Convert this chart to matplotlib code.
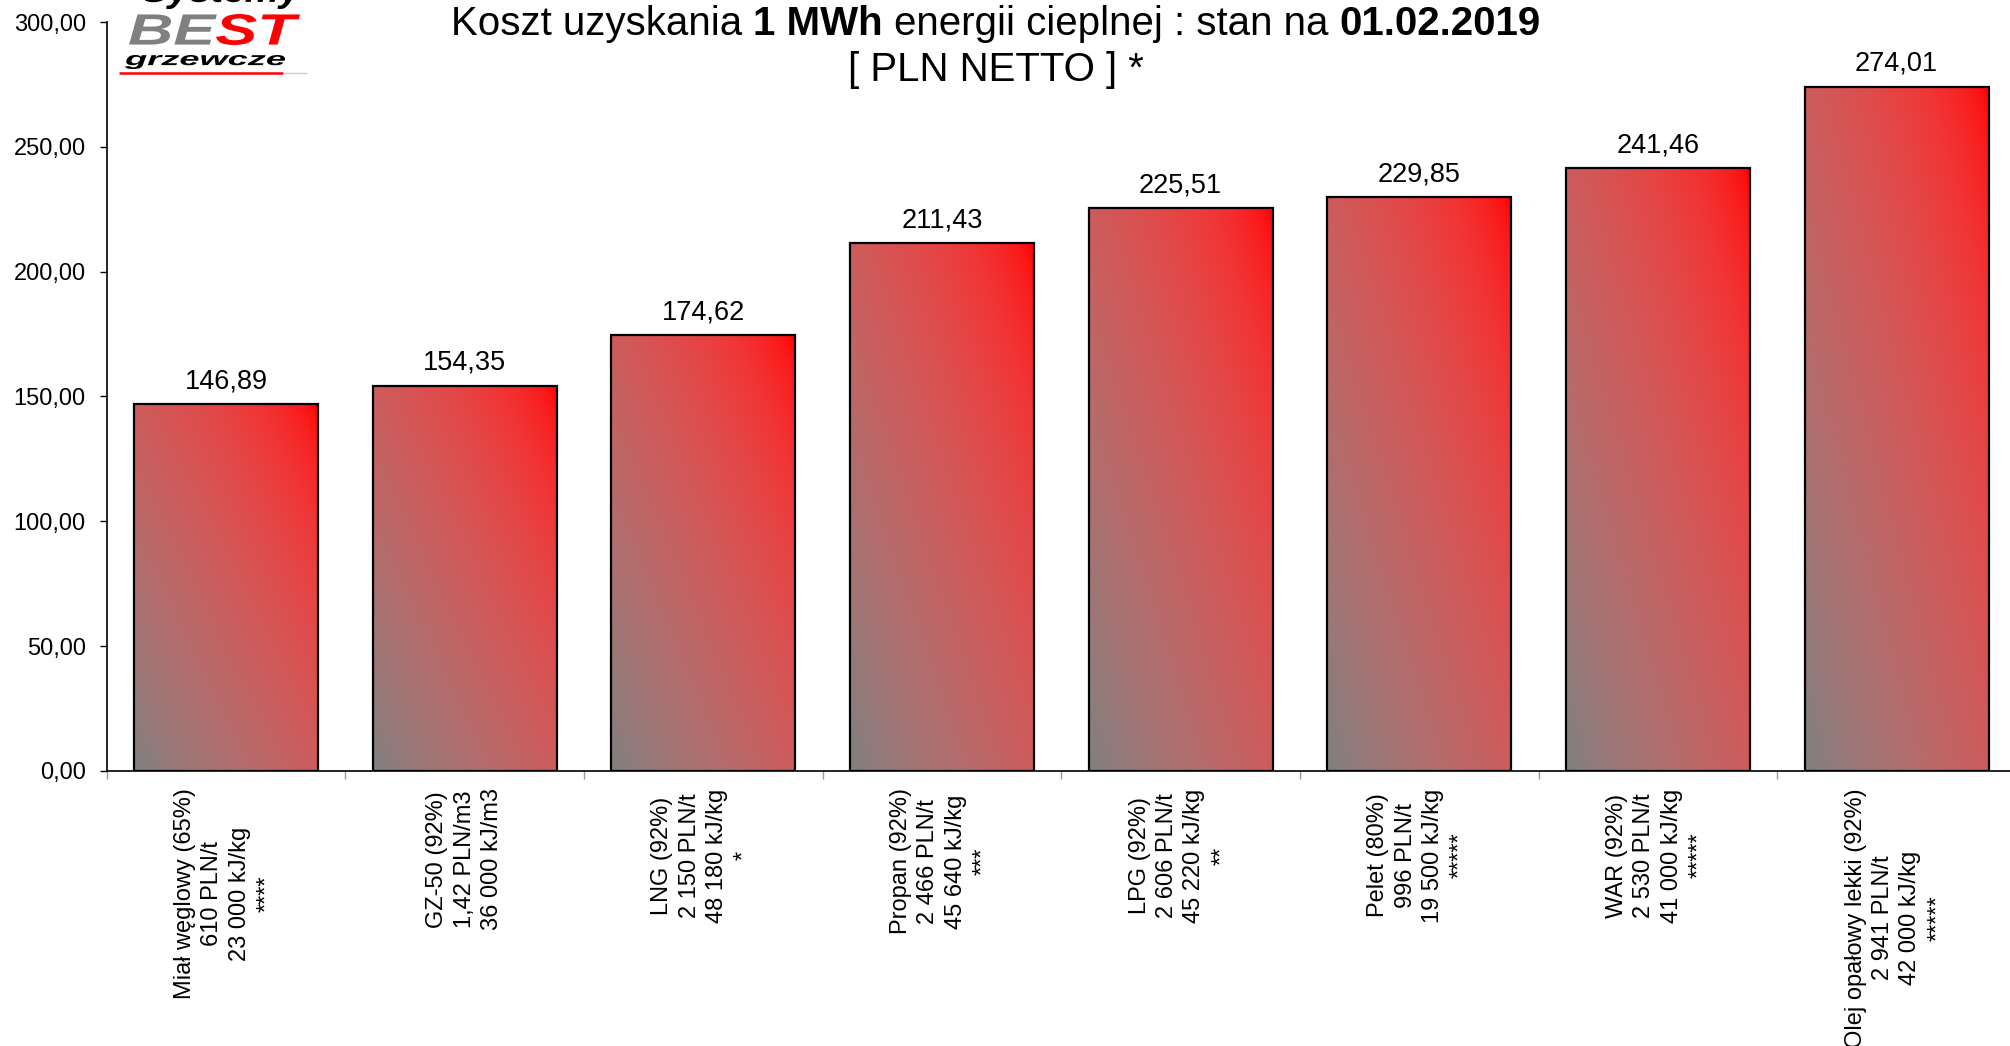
import numpy as np
import matplotlib
matplotlib.use("Agg")
import matplotlib.pyplot as plt
from matplotlib.textpath import TextPath, text_to_path
from matplotlib.font_manager import FontProperties
from matplotlib.patches import PathPatch
from matplotlib.path import Path
from matplotlib.ticker import FixedLocator, FuncFormatter

plt.rcParams['font.family'] = ['Liberation Sans', 'DejaVu Sans']

# ---------------- data ----------------
categories = [
    "Miał węglowy (65%)\n610 PLN/t\n23 000 kJ/kg\n****",
    "GZ-50 (92%)\n1,42 PLN/m3\n36 000 kJ/m3",
    "LNG (92%)\n2 150 PLN/t\n48 180 kJ/kg\n*",
    "Propan (92%)\n2 466 PLN/t\n45 640 kJ/kg\n***",
    "LPG (92%)\n2 606 PLN/t\n45 220 kJ/kg\n**",
    "Pelet (80%)\n996 PLN/t\n19 500 kJ/kg\n*****",
    "WAR (92%)\n2 530 PLN/t\n41 000 kJ/kg\n*****",
    "Olej opałowy lekki (92%)\n2 941 PLN/t\n42 000 kJ/kg\n*****",
]
values = [146.89, 154.35, 174.62, 211.43, 225.51, 229.85, 241.46, 274.01]
yticks = [0, 50, 100, 150, 200, 250, 300]

W, H = 2010, 1046
fig = plt.figure(figsize=(W / 100, H / 100), dpi=100)
fig.patch.set_facecolor('white')

def fx(px):
    return px / W

def fy(py):
    return 1 - py / H

# axes: x from 106.7 px to 2016 px, y from 22 px (300) to 771 px (0)
ax_left, ax_right = 106.7, 2016.0
ax_top, ax_bot = 22.0, 771.0
ax = fig.add_axes([fx(ax_left), fy(ax_bot), (ax_right - ax_left) / W, (ax_bot - ax_top) / H])
ax.set_facecolor('none')

n = len(values)
x = np.arange(n)
bar_w = 0.77

# gradient: bottom-left grey -> top-right red, interpolated in linear light
def to_lin(c):
    return np.where(c <= 0.04045, c / 12.92, ((c + 0.055) / 1.055) ** 2.4)

def to_srgb(c):
    return np.where(c <= 0.0031308, c * 12.92, 1.055 * np.power(c, 1 / 2.4) - 0.055)

N = 256
u = np.linspace(0, 1, N)
U, V = np.meshgrid(u, u)
T = (U + V) / 2.0
c0 = to_lin(np.array([128, 128, 128]) / 255.0)
c1 = to_lin(np.array([255, 0, 0]) / 255.0)
grad = to_srgb(c0[None, None, :] * (1 - T[..., None]) + c1[None, None, :] * T[..., None])
grad = np.clip(grad, 0, 1)

bars = ax.bar(x, values, width=bar_w, facecolor='none', edgecolor='black',
              linewidth=1.6, zorder=3)
for b in bars:
    x0, y0 = b.get_x(), b.get_y()
    bw, bh = b.get_width(), b.get_height()
    im = ax.imshow(grad, extent=(x0, x0 + bw, y0, y0 + bh), origin='lower',
                   aspect='auto', zorder=2, interpolation='bilinear')
    im.set_clip_path(b)

for xi, v in zip(x, values):
    ax.annotate(f"{v:.2f}".replace('.', ','), xy=(xi, v), xytext=(0, 11.5),
                textcoords='offset points', ha='center', va='baseline',
                fontsize=19.5, color='black')

ax.set_xlim(-0.5, n - 0.5)
ax.set_ylim(0, 300)

for s in ['top', 'right']:
    ax.spines[s].set_visible(False)
ax.spines['left'].set_linewidth(1.2)
ax.spines['bottom'].set_linewidth(1.2)

ax.yaxis.set_major_locator(FixedLocator(yticks))
ax.yaxis.set_major_formatter(FuncFormatter(lambda v, p: f"{v:.2f}".replace('.', ',')))
ax.tick_params(axis='y', direction='out', length=5, width=1.0, labelsize=17, pad=10)

ax.set_xticks(x)
ax.set_xticklabels([])
ax.tick_params(axis='x', which='major', length=0)
ax.xaxis.set_minor_locator(FixedLocator(np.arange(-0.5, n, 1.0)))
ax.tick_params(axis='x', which='minor', direction='out', length=6, width=1.0, color='#999999')

for xi, lab in zip(x, categories):
    ax.annotate(lab, xy=(xi, 0), xycoords=('data', 'axes fraction'),
                xytext=(0, -12.5), textcoords='offset points',
                rotation=90, ha='center', va='top', multialignment='center',
                fontsize=17, linespacing=1.32, color='black', annotation_clip=False)

# ---------------- title with mixed bold ----------------
renderer = fig.canvas.get_renderer()
title_fs = 29

def text_width(s, weight):
    t = fig.text(0, 0, s, fontsize=title_fs, fontweight=weight)
    w = t.get_window_extent(renderer).width
    t.remove()
    return w

space_w = text_width("a a", 'normal') - text_width("aa", 'normal')

def draw_line(pieces, cx, baseline_px):
    widths = [text_width(s, wgt) for s, wgt in pieces]
    total = sum(widths) + space_w * (len(pieces) - 1)
    xpos = cx - total / 2
    for (s, wgt), w in zip(pieces, widths):
        fig.text(fx(xpos), fy(baseline_px), s, fontsize=title_fs, fontweight=wgt,
                 ha='left', va='baseline', color='black')
        xpos += w + space_w

draw_line([("Koszt uzyskania", 'normal'), ("1 MWh", 'bold'),
           ("energii cieplnej : stan na", 'normal'), ("01.02.2019", 'bold')], 996, 35)
draw_line([("[ PLN NETTO ] *", 'normal')], 996, 81)

# ---------------- logo ----------------
lax = fig.add_axes([0, 0, 1, 1], zorder=10)
lax.set_xlim(0, W)
lax.set_ylim(H, 0)
lax.axis('off')
lax.patch.set_alpha(0)

prop_bi = FontProperties(family='Liberation Sans', weight='bold', style='italic')

def fit_text(pieces, x0, y0, x1, y1, z=11):
    """pieces: list of (string, colour); fitted together into pixel box."""
    paths = []
    off = 0.0
    for s, col in pieces:
        tp = TextPath((off, 0), s, size=100, prop=prop_bi)
        paths.append((tp, col))
        w, _, _ = text_to_path.get_text_width_height_descent(s, prop_bi.copy(), ismath=False)
        fp = prop_bi.copy()
        fp.set_size(100)
        w, _, _ = text_to_path.get_text_width_height_descent(s, fp, ismath=False)
        off += w
    allv = np.vstack([p.vertices for p, _ in paths])
    minx, miny = allv[:, 0].min(), allv[:, 1].min()
    maxx, maxy = allv[:, 0].max(), allv[:, 1].max()
    for tp, col in paths:
        v = tp.vertices
        X = x0 + (v[:, 0] - minx) / (maxx - minx) * (x1 - x0)
        Y = y1 - (v[:, 1] - miny) / (maxy - miny) * (y1 - y0)
        p = Path(np.column_stack([X, Y]), tp.codes)
        lax.add_patch(PathPatch(p, facecolor=col, edgecolor='none', zorder=z, clip_on=False))

fit_text([("Systemy", 'black')], 142, -22, 302, 9)
fit_text([("BE", '#808080'), ("ST", '#ff0000')], 128, 14, 300, 45)
fit_text([("grzewcze", 'black')], 125, 55, 285, 69)
lax.plot([119, 283], [73, 73], color='#ff0000', lw=1.8, solid_capstyle='butt', zorder=11)
lax.plot([283, 307], [73, 73], color='#cccccc', lw=1.0, solid_capstyle='butt', zorder=11)

fig.savefig("out.png", dpi=100)
